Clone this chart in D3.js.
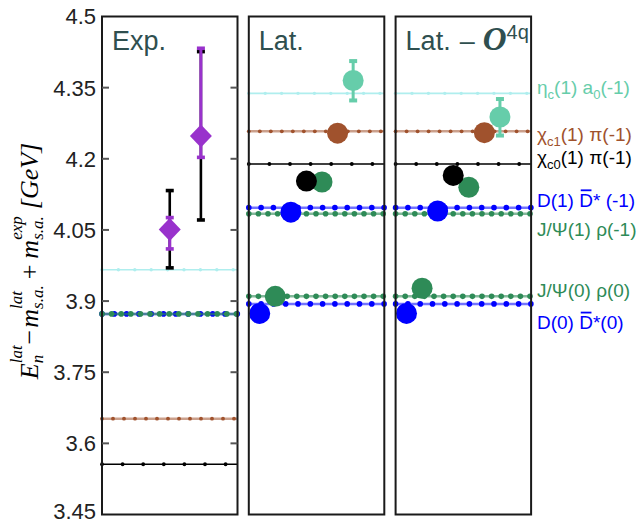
<!DOCTYPE html>
<html>
<head>
<meta charset="utf-8">
<style>
  body { margin: 0; background: #fff; }
</style>
</head>
<body>
<svg width="643" height="523" font-family="Liberation Sans, Arial, sans-serif"></svg>
<script src="https://d3js.org/d3.v7.min.js"></script>
<script>
// ---- data ----
const yTicks = [3.45, 3.6, 3.75, 3.9, 4.05, 4.2, 4.35, 4.5];

// channels, in the order of the lattice levels (left to right)
const channels = ["D(0) D*(0)", "J/Psi(0) rho(0)", "D(1) D*(-1)", "chi_c0(1) pi(-1)",
                  "J/Psi(1) rho(-1)", "chi_c1(1) pi(-1)", "eta_c(1) a0(-1)"];

// non-interacting thresholds
const expThreshChannel = [6, 5, 3, 0, 1];
const expThreshValue   = [3.966, 3.652, 3.556, 3.873, 3.873];
const latThreshValue   = [3.894, 3.910, 4.097, 4.189, 4.084, 4.258, 4.338];

// lattice energy levels (state index 1..7)
const latState   = [1, 2, 3, 4, 5, 6, 7];
const latEnergy  = [3.874, 3.910, 4.0875, 4.153, 4.151, 4.254, 4.365];
const latErrLo   = [null, null, null, null, null, null, 4.323];
const latErrHi   = [null, null, null, null, null, null, 4.406];
const no4qEnergy = [3.874, 3.927, 4.090, 4.165, 4.140, 4.255, 4.288];
const no4qErrLo  = [null, null, null, null, null, null, 4.249];
const no4qErrHi  = [null, null, null, null, null, null, 4.326];

// experiment: Zc(4050), Zc(4250)
const expState = [4.65, 6.65];
const expMass  = [4.051, 4.248];
const expStatLo = [4.010, 4.203], expStatHi = [4.076, 4.433];
const expSysLo  = [3.970, 4.071], expSysHi  = [4.133, 4.426];

// ---- style ----
const chColor = ["#0000ff", "#2e8b57", "#0000ff", "#000000", "#2e8b57", "#a0522d", "#66cdaa"];
const lineStyle = [
  {stroke: "#0000ff", op: 0.55, w: 2.5, dot: 2.8, step: 12.3},
  {stroke: "#2e8b57", op: 0.6, w: 2.5, dot: 2.8, step: 9.6},
  {stroke: "#0000ff", op: 0.55, w: 2.5, dot: 2.8, step: 12.3},
  {stroke: "#000000", op: 1, w: 1.5, dot: 1.9, step: 20.6},
  {stroke: "#2e8b57", op: 0.6, w: 2.5, dot: 2.8, step: 9.6},
  {stroke: "#a0522d", op: 0.55, w: 2.5, dot: 1.9, step: 11},
  {stroke: "#afeeee", op: 1, w: 1.6, dot: 1.7, step: 16.4}
];
const titleColor = "#2f4f4f";

const svg = d3.select("svg");
const plotTop = 16.5, plotBottom = 514.5, left0 = 102, panelW = 135.5, panelStep = 146.8;
const y = d3.scaleLinear().domain([3.45, 4.5]).range([plotBottom, plotTop]);
const panelLeft = [0, 1, 2].map(i => left0 + i * panelStep);
const xs = panelLeft.map(l => d3.scaleLinear().domain([0.3, 9.0]).range([l, l + panelW]));

// rich text helper: parts laid out left to right, "stack" puts a part over the previous one
function rich(parent, parts, fill) {
  const g = parent.append("g");
  let cur = 0, lastStart = 0;
  parts.forEach(p => {
    if (p.gap) { cur += p.gap; return; }
    const start = p.stack ? lastStart : cur;
    const t = g.append("text")
      .attr("x", start).attr("y", p.dy || 0)
      .attr("font-size", p.size)
      .attr("font-family", p.family || null)
      .attr("font-style", p.italic ? "italic" : null)
      .attr("font-weight", p.bold ? "bold" : null)
      .attr("fill", fill)
      .style("white-space", "pre")
      .text(p.t);
    const w = t.node().getComputedTextLength();
    if (p.over) {
      g.append("line").attr("x1", start + 1.5).attr("x2", start + w - 1.5)
        .attr("y1", (p.dy || 0) - p.size * 0.86).attr("y2", (p.dy || 0) - p.size * 0.86)
        .attr("stroke", fill).attr("stroke-width", 1.8);
    }
    if (p.stack) cur = Math.max(cur, start + w);
    else { lastStart = start; cur = start + w; }
  });
  return {g, width: cur};
}

// threshold line with dots
function threshold(i, value, style) {
  const l = panelLeft[i];
  const yy = y(value);
  svg.append("line").attr("x1", l).attr("x2", l + panelW).attr("y1", yy).attr("y2", yy)
    .attr("stroke", style.stroke).attr("stroke-opacity", style.op).attr("stroke-width", style.w);
  const pts = d3.range(l, l + panelW + 0.5, style.step);
  svg.append("g").selectAll("circle").data(pts).join("circle")
    .attr("cx", d => d).attr("cy", yy).attr("r", style.dot).attr("fill", style.stroke);
}

// Exp panel thresholds (draw blue before green)
expThreshChannel.forEach((c, k) => threshold(0, expThreshValue[k], lineStyle[c]));

// lattice thresholds
const lineOrder = [6, 5, 3, 0, 2, 1, 4];
[1, 2].forEach(p => lineOrder.forEach(c => threshold(p, latThreshValue[c], lineStyle[c])));

// lattice points
function levels(p, energy, lo, hi) {
  const x = xs[p];
  const g = svg.append("g");
  latState.forEach((s, i) => {
    if (lo[i] == null) return;
    const cx = x(s);
    g.append("line").attr("x1", cx).attr("x2", cx).attr("y1", y(lo[i])).attr("y2", y(hi[i]))
      .attr("stroke", chColor[i]).attr("stroke-width", 3);
    [lo[i], hi[i]].forEach(v => g.append("rect").attr("x", cx - 4).attr("y", y(v) - 2)
      .attr("width", 8).attr("height", 4).attr("fill", chColor[i]));
  });
  // green first so black sits on top
  const order = [1, 4, 0, 2, 3, 5, 6];
  g.selectAll("circle.lv").data(order).join("circle").attr("class", "lv")
    .attr("cx", i => x(latState[i])).attr("cy", i => y(energy[i]))
    .attr("r", 10.5).attr("fill", i => chColor[i]);
}
levels(1, latEnergy, latErrLo, latErrHi);
levels(2, no4qEnergy, no4qErrLo, no4qErrHi);

// experiment points
const purple = "#9932cc";
expState.forEach((s, i) => {
  const cx = xs[0](s);
  const bar = (lo, hi, color, w) => {
    svg.append("line").attr("x1", cx).attr("x2", cx).attr("y1", y(lo)).attr("y2", y(hi))
      .attr("stroke", color).attr("stroke-width", w);
    [lo, hi].forEach(v => svg.append("rect").attr("x", cx - 4).attr("y", y(v) - 1.8)
      .attr("width", 8).attr("height", 3.6).attr("fill", color));
  };
  bar(expSysLo[i], expSysHi[i], "#000", 2.6);
  bar(expStatLo[i], expStatHi[i], purple, 3);
  const cy = y(expMass[i]);
  svg.append("path").attr("d", `M${cx},${cy - 11.5}L${cx + 11},${cy}L${cx},${cy + 11.5}L${cx - 11},${cy}Z`)
    .attr("fill", purple);
});

// frames
panelLeft.forEach(l => svg.append("rect").attr("x", l).attr("y", plotTop).attr("width", panelW)
  .attr("height", plotBottom - plotTop).attr("fill", "none").attr("stroke", "#1a1a1a").attr("stroke-width", 2));

// ticks on the Exp panel (inside, both sides)
const innerTicks = yTicks.slice(1, -1);
innerTicks.forEach(v => {
  [[panelLeft[0], 7], [panelLeft[0] + panelW, -7]].forEach(([x0, d]) =>
    svg.append("line").attr("x1", x0).attr("x2", x0 + d).attr("y1", y(v)).attr("y2", y(v))
      .attr("stroke", "#555").attr("stroke-width", 2));
});
svg.append("g").selectAll("text").data(yTicks).join("text")
  .attr("x", 96).attr("y", d => Math.min(y(d), 511)).attr("dy", "0.36em")
  .attr("text-anchor", "end").attr("font-size", 22).attr("fill", "#222")
  .text(d => d3.format("")(d));

// panel titles
const tSize = 27;
svg.append("text").attr("x", panelLeft[0] + 10).attr("y", 50).attr("font-size", tSize)
  .attr("fill", titleColor).text("Exp.");
svg.append("text").attr("x", panelLeft[1] + 10).attr("y", 50).attr("font-size", tSize)
  .attr("fill", titleColor).text("Lat.");
const t3 = rich(svg, [
  {t: "Lat.", size: tSize}, {gap: 9}, {t: "\u2013", size: tSize}, {gap: 8},
  {t: "O", size: 33, italic: true, bold: true, family: "Liberation Serif, serif"},
  {t: "4q", size: 20, dy: -11}
], titleColor);
t3.g.attr("transform", `translate(${panelLeft[2] + 10},50)`);

// y axis label
const serif = "Liberation Serif, Times New Roman, serif";
const mainS = 26, smallS = 17;
const ylab = rich(svg, [
  {t: "E", size: mainS, italic: true, family: serif},
  {t: "n", size: smallS, italic: true, family: serif, dy: 5},
  {t: "lat", size: smallS, italic: true, family: serif, dy: -16, stack: true},
  {gap: 1},
  {t: "\u2212", size: mainS, family: serif},
  {gap: 2},
  {t: "m", size: mainS, italic: true, family: serif},
  {t: "s.a.", size: smallS, italic: true, family: serif, dy: 5},
  {t: "lat", size: smallS, italic: true, family: serif, dy: -16, stack: true},
  {gap: 6},
  {t: "+", size: mainS, family: serif},
  {gap: 6},
  {t: "m", size: mainS, italic: true, family: serif},
  {t: "s.a.", size: smallS, italic: true, family: serif, dy: 5},
  {t: "exp", size: smallS, italic: true, family: serif, dy: -16, stack: true},
  {gap: 7},
  {t: "[GeV]", size: mainS, italic: true, family: serif}
], "#000");
ylab.g.attr("transform", `translate(38,261) rotate(-90) translate(${-ylab.width / 2},0)`);

// channel labels on the right
const labS = 19, subS = 13;
const labelParts = [
  [{t: "D(0) ", size: labS}, {t: "D", size: labS, over: true}, {t: "*(0)", size: labS}],
  [{t: "J/\u03a8(0) \u03c1(0)", size: labS}],
  [{t: "D(1) ", size: labS}, {t: "D", size: labS, over: true}, {t: "* (-1)", size: labS}],
  [{t: "\u03c7", size: labS}, {t: "c0", size: subS, dy: 5}, {t: "(1) \u03c0(-1)", size: labS}],
  [{t: "J/\u03a8(1) \u03c1(-1)", size: labS}],
  [{t: "\u03c7", size: labS}, {t: "c1", size: subS, dy: 5}, {t: "(1) \u03c0(-1)", size: labS}],
  [{t: "\u03b7", size: labS}, {t: "c", size: subS, dy: 5}, {t: "(1) a", size: labS},
   {t: "0", size: subS, dy: 5}, {t: "(-1)", size: labS}]
];
const labelOffset = [25, 1, -1, 0, 22, 10, 1];
labelParts.forEach((parts, i) => {
  const r = rich(svg, parts, chColor[i]);
  r.g.attr("transform", `translate(537,${y(latThreshValue[i]) + labelOffset[i]})`);
});
</script>
</body>
</html>
